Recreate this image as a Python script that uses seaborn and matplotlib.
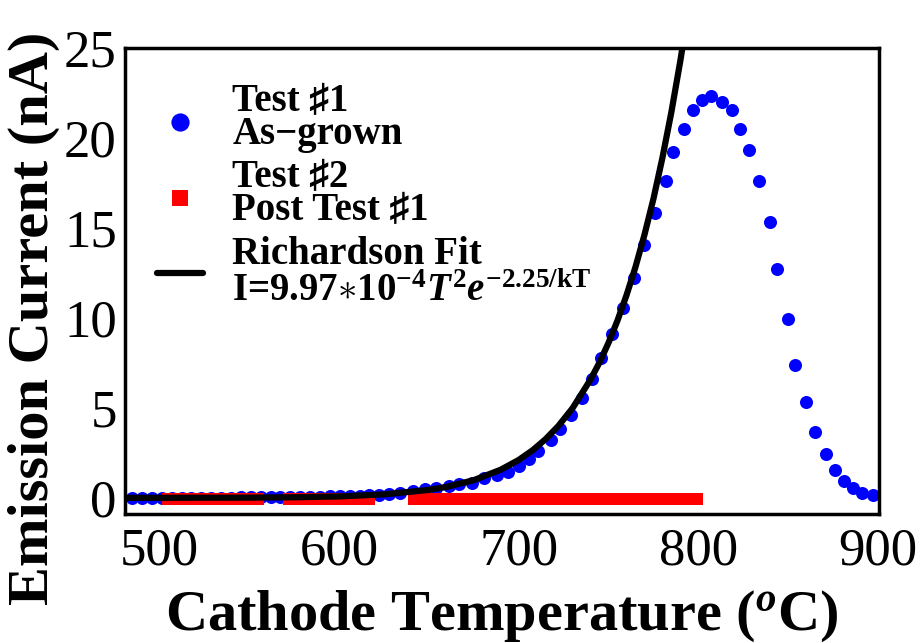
import matplotlib
matplotlib.use("Agg")
import matplotlib.pyplot as plt
import seaborn as sns

# Test #1 (as-grown): temperatura (C) e corrente (nA)
temp_t1 = [485, 490.5, 496, 501.5, 507, 512.5, 518, 523.5, 529, 534.5, 540, 545.5,
           551, 556.5, 562, 567.5, 573, 578.5, 584, 589.5, 595, 600.5, 606, 611.5,
           617, 622.5, 628, 634, 641, 648, 654, 661, 667, 674, 681, 688, 694, 700,
           706, 711, 718, 723, 729, 735, 741, 746, 752, 758, 764, 770, 776, 782,
           786, 792, 797, 802, 807, 813, 819, 823, 828, 834, 840, 844, 850, 854,
           860, 865, 871, 876, 881, 886, 891, 897]
curr_t1 = [0.01, 0.01, 0.01, 0.01, 0.01, 0.01, 0.01, 0.01, 0.01, 0.01, 0.01, 0.02,
           0.02, 0.02, 0.03, 0.04, 0.05, 0.05, 0.06, 0.07, 0.08, 0.09, 0.1, 0.12,
           0.14, 0.17, 0.21, 0.28, 0.39, 0.48, 0.57, 0.67, 0.76, 0.85, 1.08, 1.28,
           1.45, 1.75, 2.15, 2.6, 3.2, 3.85, 4.6, 5.55, 6.6, 7.75, 9.09, 10.57,
           12.24, 14.04, 15.82, 17.61, 19.22, 20.52, 21.54, 22.09, 22.33, 22.02,
           21.54, 20.52, 19.32, 17.61, 15.33, 12.71, 9.93, 7.37, 5.33, 3.68, 2.46,
           1.54, 0.94, 0.54, 0.29, 0.17]

# Test #2 (post test #1): praticamente zero
temp_t2 = [505, 510, 515, 520, 525, 530, 535, 540, 545, 550, 555,
           572, 577, 582, 587, 592, 597, 602, 607, 612, 617,
           642, 647, 652, 657, 662, 667, 672, 677, 682, 687, 692, 697, 702, 707,
           712, 717, 722, 727, 732, 737, 742, 747, 752, 757, 762, 767, 772, 777,
           782, 787, 792, 797, 799]
curr_t2 = [-0.05, -0.05, -0.05, -0.05, -0.05, -0.05, -0.05, -0.05, -0.05, -0.05, -0.05,
           -0.05, -0.05, -0.05, -0.05, -0.05, -0.05, -0.05, -0.05, -0.05, -0.05,
           -0.05, -0.05, -0.05, -0.05, -0.05, -0.05, -0.05, -0.05, -0.05, -0.05,
           -0.05, -0.05, -0.05, -0.05, -0.05, -0.05, -0.05, -0.05, -0.05, -0.05,
           -0.05, -0.05, -0.05, -0.05, -0.05, -0.05, -0.05, -0.05, -0.05, -0.05,
           -0.05, -0.05, -0.05]

# curva do ajuste de Richardson
temp_fit = [481, 500, 550, 575, 600, 625, 650, 660, 675, 690, 700, 708, 715, 722,
            730, 740, 745, 750, 755, 760, 765, 770, 775, 780, 785, 790, 793]
curr_fit = [0.0005, 0.0013, 0.011, 0.031, 0.078, 0.19, 0.44, 0.61, 0.98, 1.56, 2.10,
            2.66, 3.26, 3.98, 4.98, 6.57, 7.52, 8.61, 9.85, 11.25, 12.82, 14.61,
            16.61, 18.89, 21.44, 24.30, 26.18]

x_ticks = [500, 600, 700, 800, 900]
y_ticks = [0, 5, 10, 15, 20, 25]

sns.set_theme(style="white")
serif = ["Liberation Serif", "DejaVu Sans"]
plt.rcParams["font.family"] = serif
plt.rcParams["text.color"] = "black"
plt.rcParams["axes.labelcolor"] = "black"
plt.rcParams["xtick.color"] = "black"
plt.rcParams["ytick.color"] = "black"
plt.rcParams["mathtext.fontset"] = "custom"
plt.rcParams["mathtext.rm"] = "Liberation Serif:bold"
plt.rcParams["mathtext.it"] = "Liberation Serif:italic:bold"
plt.rcParams["mathtext.bf"] = "Liberation Serif:bold"

fig = plt.figure(figsize=(9.23, 6.43), dpi=100)
ax = fig.add_axes([0.1354, 0.2006, 0.8169, 0.7247])

sns.scatterplot(x=temp_t1, y=curr_t1, color="#0000ff", s=88, marker="o",
                linewidth=0, label="Test \u266f1\nAs\u2212grown", ax=ax, zorder=2.1)
sns.scatterplot(x=temp_t2, y=curr_t2, color="#ff0000", s=74, marker="s",
                linewidth=0, label="Test \u266f2\nPost Test \u266f1", ax=ax, zorder=2.2)
sns.lineplot(x=temp_fit, y=curr_fit, color="black", linewidth=4.5,
             label="Richardson Fit\nI=9.97$\\ast10^{-4}T^2e^{-2.25/\\mathrm{kT}}$",
             ax=ax, zorder=2.3)

ax.set_xlim(481, 900.5)
ax.set_ylim(-0.9, 25)
ax.set_xticks(x_ticks)
ax.set_yticks(y_ticks)
ax.tick_params(axis="x", direction="in", length=12, width=2, labelsize=38, pad=10,
               colors="black")
ax.tick_params(axis="y", direction="in", length=5, width=2, labelsize=38, pad=6,
               colors="black")
for s in ax.spines.values():
    s.set_linewidth(2.5)
    s.set_color("black")

ax.set_xlabel(r"Cathode Temperature ($^o$C)", fontsize=42, fontweight="bold")
ax.set_ylabel("Emission Current (nA)", fontsize=42, fontweight="bold")
ax.xaxis.set_label_coords(0.5, -0.16)
ax.yaxis.set_label_coords(-0.086, 0.42)

leg = ax.legend(loc="upper left", bbox_to_anchor=(0.042, 0.925), frameon=False,
                borderpad=0, borderaxespad=0, handlelength=1.2, handletextpad=0.75,
                labelspacing=0.18, markerscale=1.4,
                prop={"family": serif, "weight": "bold", "size": 28})
for i, t in enumerate(leg.get_texts()):
    t.set_linespacing(1.0 if i == 2 else 0.84)
    t.set_color("black")

fig.savefig("out.png", dpi=100)
